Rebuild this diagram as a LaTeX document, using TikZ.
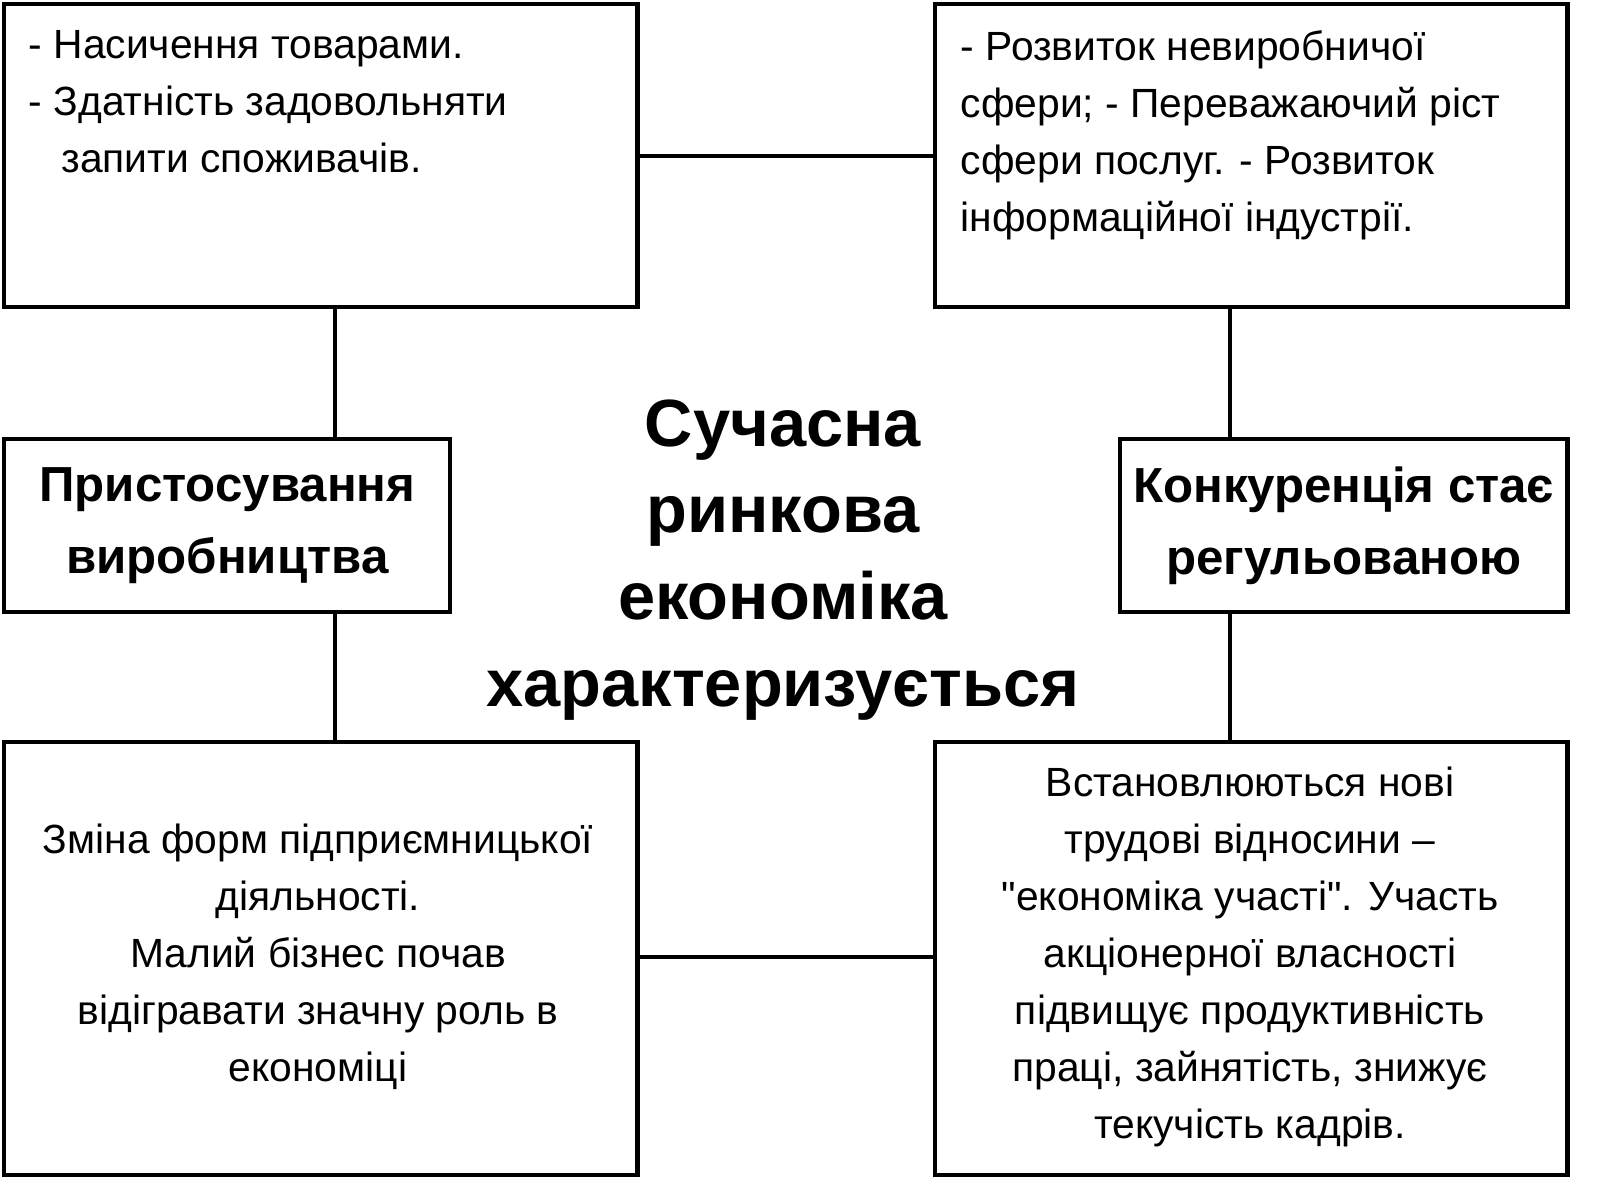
\documentclass[tikz,border=0pt]{standalone}
\usepackage{fontspec}
\setmainfont{Liberation Sans}
\newfontfamily\plainq{Liberation Sans}[Ligatures=ResetAll]
\begin{document}
\begin{tikzpicture}[x=0.01cm,y=-0.01cm,
  box/.style={draw,line width=1.2pt},
  conn/.style={line width=1.2pt},
  txt/.style={font=\fontsize{11.6}{16.2}\selectfont,inner sep=0pt},
  btxt/.style={font=\bfseries\fontsize{14}{20.4}\selectfont,align=center,inner sep=0pt}]
\useasboundingbox (0,0) rectangle (1600,1200);
\node[box,minimum width=6.33cm,minimum height=3.03cm,anchor=north west] (tl) at (2,2) {};
\node[box,minimum width=6.32cm,minimum height=3.03cm,anchor=north west] (tr) at (933,2) {};
\node[box,minimum width=4.46cm,minimum height=1.73cm,anchor=north west] (ml) at (2,437) {};
\node[box,minimum width=4.47cm,minimum height=1.73cm,anchor=north west] (mr) at (1118,437) {};
\node[box,minimum width=6.33cm,minimum height=4.33cm,anchor=north west] (bl) at (2,740) {};
\node[box,minimum width=6.32cm,minimum height=4.33cm,anchor=north west] (br) at (933,740) {};
\draw[conn] (tl.east) -- (tr.west);
\draw[conn] (bl.east |- 0,957) -- (br.west |- 0,957);
\draw[conn] (tl.south -| 335,0) -- (ml.north -| 335,0);
\draw[conn] (ml.south -| 335,0) -- (bl.north -| 335,0);
\draw[conn] (tr.south -| 1230,0) -- (mr.north -| 1230,0);
\draw[conn] (mr.south -| 1230,0) -- (br.north -| 1230,0);
\node[txt,align=left,anchor=north west] (t1) at (28,30) {- Насичення товарами.\\- Здатність задовольняти\\\hspace*{0.8em}запити споживачів.};
\node[txt,align=left,anchor=north west] (t2) at (960,30) {- Розвиток невиробничої\\сфери; - Переважаючий ріст\\сфери послуг. - Розвиток\\інформаційної індустрії.};
\node[btxt] (t3) at (ml) {Пристосування\\виробництва};
\node[btxt] (t4) at (mr) {Конкуренція стає\\регульованою};
\node[font=\bfseries\fontsize{19}{24.7}\selectfont,align=center,inner sep=0pt] (c) at (783,560) {Сучасна\\ринкова\\економіка\\характеризується};
\node[txt,align=center] (t5) at (318,957) {Зміна форм підприємницької\\діяльності.\\Малий бізнес почав\\відігравати значну роль в\\економіці};
\node[txt,align=center] (t6) at (1250,957) {Встановлюються нові\\трудові відносини –\\{\plainq"}економіка участі{\plainq"}. Участь\\акціонерної власності\\підвищує продуктивність\\праці, зайнятість, знижує\\текучість кадрів.};
\end{tikzpicture}
\end{document}
